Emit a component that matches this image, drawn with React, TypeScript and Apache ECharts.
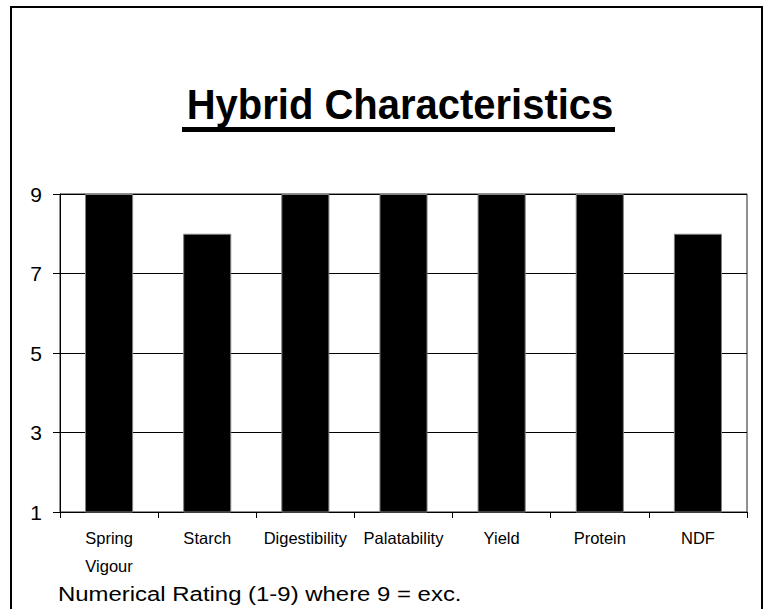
import React, { useEffect, useRef } from "react";
import * as echarts from "echarts";

const categories = ["Spring\nVigour", "Starch", "Digestibility", "Palatability", "Yield", "Protein", "NDF"];
const ratings = [9, 8, 9, 9, 9, 9, 8];
const yTicks = [1, 3, 5, 7, 9];
const titleText = "Hybrid Characteristics";
const footnote = "Numerical Rating (1-9) where 9 = exc.";

const SANS = '"Liberation Sans", Arial, sans-serif';

export default function App() {
  const ref = useRef<HTMLDivElement>(null);
  useEffect(() => {
    if (!ref.current) return;
    const chart = echarts.init(ref.current, undefined, { renderer: "svg" });
    chart.setOption({
      animation: false,
      backgroundColor: "#fff",
      grid: { left: 60, top: 194, right: 21, bottom: 97, show: true, borderColor: "#222", borderWidth: 1 },
      xAxis: {
        type: "category",
        data: categories,
        boundaryGap: true,
        axisLine: { lineStyle: { color: "#000", width: 1 } },
        axisTick: { show: true, alignWithLabel: false, length: 6, lineStyle: { color: "#000" } },
        axisLabel: { color: "#000", fontFamily: SANS, fontSize: 16.5, lineHeight: 28, margin: 12, interval: 0 },
      },
      yAxis: {
        type: "value",
        min: 1,
        max: 9,
        interval: 2,
        axisLine: { show: true, lineStyle: { color: "#000", width: 1 } },
        axisTick: { show: true, length: 7, lineStyle: { color: "#000" }, customValues: yTicks },
        axisLabel: { color: "#000", fontFamily: SANS, fontSize: 21, margin: 18, customValues: yTicks },
        splitLine: { show: true, lineStyle: { color: "#000", width: 1 }, customValues: yTicks },
      },
      series: [
        {
          type: "bar",
          data: ratings,
          barWidth: "49%",
          itemStyle: { color: "#000", borderColor: "#808080", borderWidth: 1 },
        },
      ],
      graphic: [
        {
          type: "rect",
          shape: { x: 11, y: 7, width: 751, height: 620 },
          style: { fill: "none", stroke: "#000", lineWidth: 2 },
          silent: true,
        },
        {
          type: "text",
          x: 400,
          y: 103.5,
          scaleX: 0.93,
          style: {
            text: titleText,
            fill: "#000",
            font: `bold 43px ${SANS}`,
            textAlign: "center",
            textVerticalAlign: "middle",
          },
        },
        {
          type: "rect",
          shape: { x: 182, y: 127, width: 433, height: 5 },
          style: { fill: "#000" },
        },
        {
          type: "text",
          x: 58,
          y: 594.5,
          scaleX: 1.14,
          style: {
            text: footnote,
            fill: "#000",
            font: `21px ${SANS}`,
            textAlign: "left",
            textVerticalAlign: "middle",
          },
        },
      ],
    });
    return () => chart.dispose();
  }, []);
  return (
    <div style={{ position: "fixed", left: 0, top: 0, width: 768, height: 609 }}>
      <div ref={ref} style={{ width: 768, height: 609 }} />
    </div>
  );
}
